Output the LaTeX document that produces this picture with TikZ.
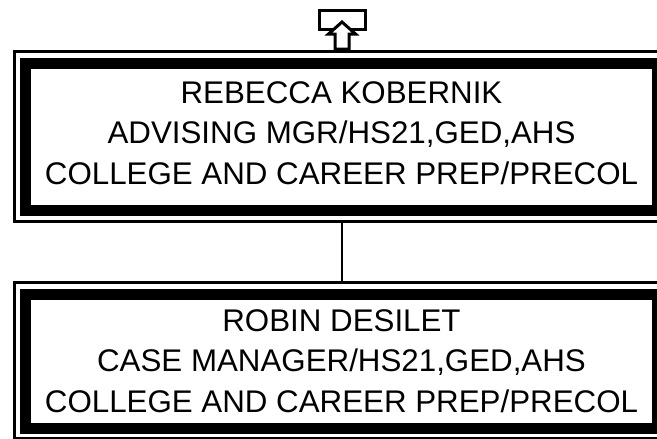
\documentclass[tikz,border=0pt]{standalone}
\usepackage{fontspec}
\setmainfont{Liberation Sans}
\begin{document}
\begin{tikzpicture}[x=1pt,y=-1pt,
  thinbox/.style={draw=black,line width=3pt,minimum width=654.5pt,inner sep=0pt,outer sep=0pt},
  thickbox/.style={draw=black,line width=11pt,minimum width=632pt,inner sep=0pt,outer sep=0pt},
  txt/.style={align=center,inner sep=0pt,outer sep=0pt,anchor=north,font=\fontsize{31.3}{40.5}\selectfont},
  conn/.style={draw=black,line width=2pt}]
\useasboundingbox (0,0) rectangle (657,439);
\clip (0,0) rectangle (657,439);
% top box
\node[thinbox,minimum height=169.5pt] (o1) at (341.75,136.25) {};
\node[thickbox,minimum height=146.5pt] (b1) at (341.5,136.75) {};
\node[txt] (t1) at (341.5,81.4) {REBECCA KOBERNIK\\ADVISING MGR/HS21,GED,AHS\\COLLEGE AND CAREER PREP/PRECOL};
% bottom box
\node[thinbox,minimum height=156pt] (o2) at (341.75,360.5) {};
\node[thickbox,minimum height=134pt] (b2) at (341.5,361) {};
\node[txt] (t2) at (341.5,309.6) {ROBIN DESILET\\CASE MANAGER/HS21,GED,AHS\\COLLEGE AND CAREER PREP/PRECOL};
% connector
\draw[conn] (o1.south) -- (o2.north);
% up-arrow icon
\draw[line width=3pt] (319.5,10.5) rectangle (365.5,29.5);
\draw[line width=3pt,fill=white,line join=miter]
  (342,22) -- (355.5,34) -- (349,34) -- (349,49) -- (335,49) -- (335,34) -- (328.5,34) -- cycle;
\end{tikzpicture}
\end{document}
